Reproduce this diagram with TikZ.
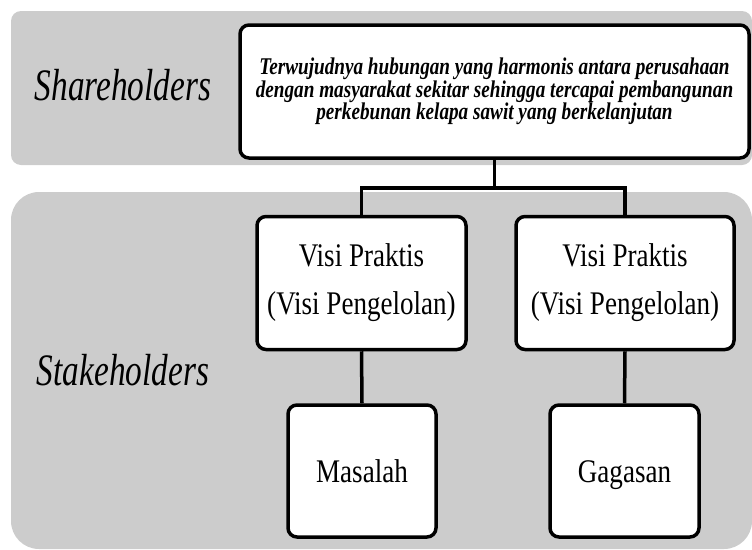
\documentclass[tikz,border=0pt]{standalone}
\usepackage{fontspec}
\setmainfont{Liberation Serif}
\newfontfamily\sidefont[FakeStretch=0.74]{Liberation Serif}
\newfontfamily\visifont[FakeStretch=0.82]{Liberation Serif}
\newfontfamily\goalfont[FakeStretch=0.8]{Liberation Serif}
\usepackage{tikz}
\usetikzlibrary{positioning, calc}
\definecolor{panelgray}{RGB}{204,204,204}

\begin{document}
\begin{tikzpicture}[x=1pt, y=-1pt,
    panel/.style={fill=panelgray},
    sidelabel/.style={font=\sidefont\itshape\fontsize{45}{50}\selectfont},
    box/.style={draw, line width=3.5pt, fill=white, rounded corners=9pt, align=center, inner sep=0pt},
    visibox/.style={box, minimum height=133pt, font=\visifont\fontsize{33}{48}\selectfont},
    wordbox/.style={visibox, minimum height=132pt, text height=22pt, text depth=0pt},
    link/.style={line width=3.5pt}]
  \useasboundingbox (0,0) rectangle (752,549);

  \fill[panel, rounded corners=10pt] (11,11) rectangle (752,165);
  \fill[panel, rounded corners=28pt] (11,192) rectangle (752,549);

  \node[sidelabel] (share) at (123,85) {Shareholders};
  \node[sidelabel] (stake) at (123,370) {Stakeholders};

  \node[box, minimum width=509pt, minimum height=133pt,
        font=\goalfont\bfseries\itshape\fontsize{24}{22.5}\selectfont] (goal) at (494.5,91.5)
    {Terwujudnya hubungan yang harmonis antara perusahaan\\
     dengan masyarakat sekitar sehingga tercapai pembangunan\\
     perkebunan kelapa sawit yang berkelanjutan};

  \node[visibox, minimum width=209pt] (visiA) at (361.5,283) {Visi Praktis\\(Visi Pengelolan)};
  \node[visibox, minimum width=218pt] (visiB) at (625,283) {Visi Praktis\\(Visi Pengelolan)};
  \node[wordbox, minimum width=148pt] (masalah) at (362,471) {Masalah};
  \node[wordbox, minimum width=149pt] (gagasan) at (624.5,471) {Gagasan};

  \coordinate (split) at (494.5,188);
  \draw[link] (goal.south) -- (split);
  \draw[link] (visiA.north) |- (split) -| (visiB.north);
  \draw[link] (visiA.south) -- (masalah.north);
  \draw[link] (visiB.south) -- (gagasan.north);
\end{tikzpicture}
\end{document}
